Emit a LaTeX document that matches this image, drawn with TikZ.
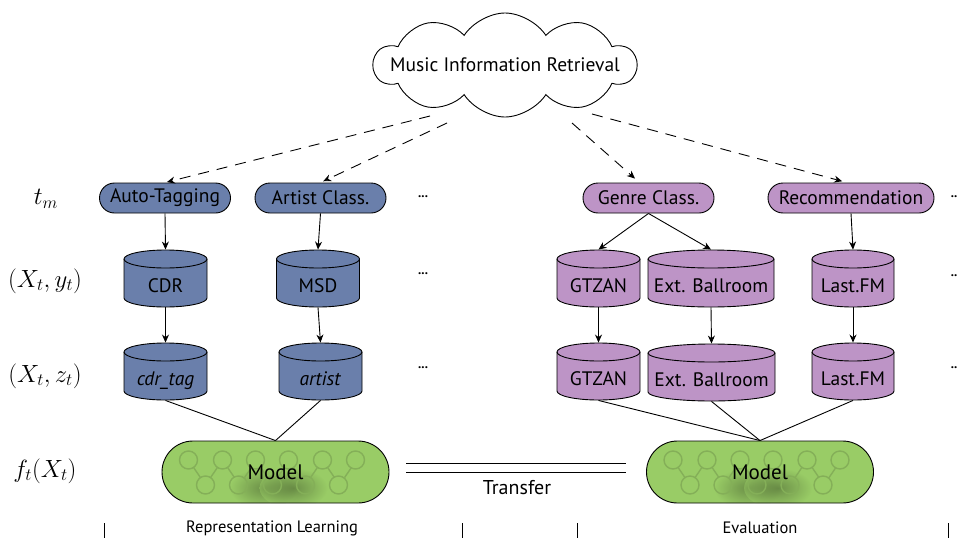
\documentclass[tikz,border=0pt]{standalone}
\usepackage{fontspec}
\setmainfont{PT Sans}
\usetikzlibrary{shapes.symbols,arrows.meta,calc}
\definecolor{taskblue}{HTML}{6A7FAB}
\definecolor{taskpurple}{HTML}{BD94C6}
\definecolor{modelgreen}{HTML}{99CC66}
\newcommand\dbcyl[6]{%
  \pgfmathsetmacro\cxl{#2-#4/2}%
  \pgfmathsetmacro\cxr{#2+#4/2}%
  \pgfmathsetmacro\cyt{#3-19.5}%
  \pgfmathsetmacro\cyb{#3+19.5}%
  \pgfmathsetmacro\crx{#4/2}%
  \filldraw[fill=#5] (\cxl,\cyt) -- (\cxl,\cyb) arc[start angle=180,end angle=0,x radius=\crx,y radius=9] -- (\cxr,\cyt) arc[start angle=0,end angle=-180,x radius=\crx,y radius=9] -- cycle;
  \draw (\cxl,\cyt) arc[start angle=180,end angle=0,x radius=\crx,y radius=9];
  \node[cyltext, minimum width=#4] (#1) at (#2,#3) {\raisebox{-13.5pt}[0pt][0pt]{#6}};
}
\begin{document}
\begin{tikzpicture}[x=1pt,y=-1pt,line width=0.9pt,
  task/.style={draw, rounded corners=15, minimum height=30, inner sep=0pt, font=\fontsize{19.5}{22}\selectfont},
  cyltext/.style={inner sep=0pt, minimum height=57, font=\fontsize{19.5}{22}\selectfont},
  arr/.style={-{Stealth[length=8pt,width=7pt]}},
  dasharr/.style={-{Stealth[length=8pt,width=7pt]}, dash pattern=on 11pt off 8pt},
  net/.style={draw=black!14!modelgreen, line width=1.4pt},
  modelbox/.style={draw, fill=modelgreen, rounded corners=31, minimum width=227, minimum height=62, inner sep=0pt,
    font=\fontsize{21}{24}\selectfont,
    path picture={
      \coordinate (pc) at (path picture bounding box.center);
      \shade[inner color=black!65!modelgreen, outer color=modelgreen, opacity=0.45] ($(pc)+(-12pt,-16pt)$) ellipse[x radius=34pt, y radius=20pt];
      \shade[inner color=black!65!modelgreen, outer color=modelgreen, opacity=0.45] ($(pc)+(18pt,-16pt)$) ellipse[x radius=34pt, y radius=20pt];
      \foreach \dx in {-87,-53,-20,13,47,80}
        \draw[net] ($(pc)+(\dx pt,12pt)$) circle[radius=9pt];
      \foreach \dx in {-70,-37,-3,30,63}
        \draw[net] ($(pc)+(\dx pt,-13pt)$) circle[radius=9pt];
      \foreach \dx in {-87,-53,-20,13,47}{
        \draw[net, shorten >=9pt, shorten <=9pt] ($(pc)+(\dx pt,12pt)$) -- ($(pc)+(\dx pt+17pt,-13pt)$);
        \draw[net, shorten >=9pt, shorten <=9pt] ($(pc)+(\dx pt+17pt,-13pt)$) -- ($(pc)+(\dx pt+34pt,12pt)$);
      }
    }},
  mathlab/.style={font=\fontsize{27}{31}\selectfont},
  dots/.style={font=\fontsize{13}{15}\selectfont\bfseries},
  tick/.style={line width=0.8pt}
]
\useasboundingbox (0,0) rectangle (960,538);

% cloud
\node[cloud, draw, fill=white, cloud puffs=10, cloud puff arc=115, aspect=2.5,
  minimum width=262, minimum height=104, inner sep=0pt,
  label={[font=\fontsize{19.5}{22}\selectfont]center:Music Information Retrieval}] (mir) at (505,65) {};

% row labels
\node[mathlab] (l1) at (46,199) {$t_m$};
\node[mathlab] (l2) at (45,281) {$(X_t,y_t)$};
\node[mathlab] (l3) at (45,376) {$(X_t,z_t)$};
\node[mathlab] (l4) at (45,471) {$f_t(X_t)$};

% tasks
\node[task, fill=taskblue, minimum width=131] (auto) at (165,198) {Auto-Tagging};
\node[task, fill=taskblue, minimum width=131] (artc) at (320.5,198) {Artist Class.};
\node[task, fill=taskpurple, minimum width=131] (genre) at (648.5,198) {Genre Class.};
\node[task, fill=taskpurple, minimum width=166] (rec) at (851,198) {Recommendation};

% dots
\node[dots] (d1) at (423,197) {...};
\node[dots] (d2) at (423,274) {...};
\node[dots] (d3) at (423,368) {...};
\node[dots, anchor=west] (d4) at (947,197) {..};
\node[dots, anchor=west] (d5) at (947,276) {..};
\node[dots, anchor=west] (d6) at (947,368) {..};

% cylinders
\dbcyl{cdr}{165.5}{278.5}{83}{taskblue}{CDR}
\dbcyl{msd}{318}{278.5}{83}{taskblue}{MSD}
\dbcyl{cdrtag}{165.5}{371.5}{83}{taskblue}{\textit{cdr\_tag}}
\dbcyl{artist}{320.5}{371.5}{83}{taskblue}{\textit{artist}}
\dbcyl{gtzanA}{598.5}{278.5}{83}{taskpurple}{GTZAN}
\dbcyl{extA}{711}{278.5}{126}{taskpurple}{Ext. Ballroom}
\dbcyl{lfmA}{853}{278.5}{82}{taskpurple}{Last.FM}
\dbcyl{gtzanB}{598.5}{371.5}{83}{taskpurple}{GTZAN}
\dbcyl{extB}{711.5}{372.5}{127}{taskpurple}{Ext. Ballroom}
\dbcyl{lfmB}{853}{371.5}{82}{taskpurple}{Last.FM}

% models
\node[modelbox] (modL) at (275.5,472) {Model};
\node[modelbox] (modR) at (760,472) {Model};

% dashed arrows from cloud
\coordinate (s1) at (430,116);
\coordinate (s2) at (447,123);
\coordinate (s3) at (572,123);
\coordinate (s4) at (592,114);
\draw[dasharr, shorten >=2pt] (s1) -- (auto.north);
\draw[dasharr, shorten >=3pt] (s2) -- (artc.north);
\draw[dasharr, shorten >=6pt] (s3) -- ([xshift=-9pt]genre.north);
\draw[dasharr, shorten >=5pt] (s4) -- ([xshift=-4pt]rec.north);

% solid arrows
\draw[arr] (auto.south) -- (cdr.north);
\draw[arr] (cdr.south) -- (cdrtag.north);
\draw[arr] (artc.south) -- (msd.north);
\draw[arr] (msd.south) -- (artist.north);
\draw[arr] (genre.south) -- (gtzanA.north);
\draw[arr] (genre.south) -- (extA.north);
\draw[arr] (gtzanA.south) -- (gtzanB.north);
\draw[arr] (extA.south) -- (extB.north);
\draw[arr] (rec.south) -- (lfmA.north);
\draw[arr] (lfmA.south) -- (lfmB.north);

% to models
\draw (cdrtag.south) -- (modL.north);
\draw (artist.south) -- (modL.north);
\draw (gtzanB.south) -- (modR.north);
\draw (extB.south) -- (modR.north);
\draw (lfmB.south) -- (modR.north);

% transfer
\coordinate (t1) at (406,463);
\coordinate (t2) at (626,463);
\coordinate (t3) at (406,472.5);
\coordinate (t4) at (626,472.5);
\draw (t1) -- (t2);
\draw (t3) -- (t4);
\node[font=\fontsize{20}{23}\selectfont] (transfer) at (517,488) {Transfer};

% bottom
\coordinate (k1a) at (104,523); \coordinate (k1b) at (104,538);
\coordinate (k2a) at (462,523); \coordinate (k2b) at (462,538);
\coordinate (k3a) at (577,523); \coordinate (k3b) at (577,538);
\coordinate (k4a) at (948,523); \coordinate (k4b) at (948,538);
\draw[tick] (k1a) -- (k1b);
\draw[tick] (k2a) -- (k2b);
\draw[tick] (k3a) -- (k3b);
\draw[tick] (k4a) -- (k4b);
\node[font=\fontsize{16.5}{19}\selectfont] (replearn) at (272,528) {Representation Learning};
\node[font=\fontsize{16.5}{19}\selectfont] (evalu) at (760,528) {Evaluation};
\end{tikzpicture}
\end{document}
